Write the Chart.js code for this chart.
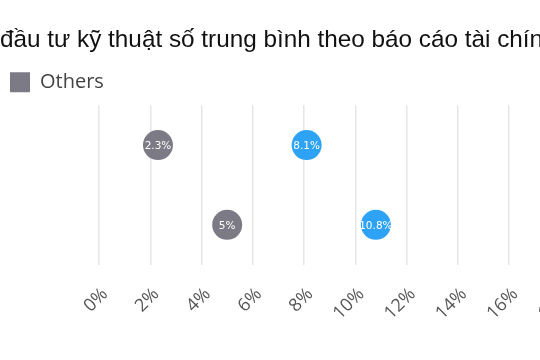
<!DOCTYPE html>
<html>
<head>
<meta charset="utf-8">
<script src="https://cdn.jsdelivr.net/npm/chart.js@4/dist/chart.umd.min.js"></script>
<style>
  html, body { margin: 0; padding: 0; background: #fff; overflow: hidden; }
  #wrap { position: absolute; left: 0; top: 0; width: 646px; height: 360px; }
</style>
</head>
<body>
<div id="wrap"><canvas id="chart"></canvas></div>
<script>
// Data
const titleText = 'đầu tư kỹ thuật số trung bình theo báo cáo tài chính';
const categories = ['Hàng 1', 'Hàng 2'];
const othersValues = [2.3, 5];
const leadersValues = [8.1, 10.8];
const xTickValues = [0, 2, 4, 6, 8, 10, 12, 14, 16, 18, 20];

const GRAY = '#7b7a85';
const BLUE = '#2ea3f5';

// Draw the value inside each bubble
const valueLabels = {
  id: 'valueLabels',
  afterDatasetsDraw(chart) {
    const ctx = chart.ctx;
    ctx.save();
    ctx.font = '10.5px "DejaVu Sans"';
    ctx.fillStyle = '#ffffff';
    ctx.textAlign = 'center';
    ctx.textBaseline = 'middle';
    chart.data.datasets.forEach((ds, i) => {
      chart.getDatasetMeta(i).data.forEach((pt, j) => {
        ctx.fillText(ds.data[j] + '%', pt.x, pt.y + 1);
      });
    });
    ctx.restore();
  }
};

// A little more room under the legend
const legendSpacing = {
  id: 'legendSpacing',
  beforeInit(chart) {
    const fit = chart.legend.fit;
    chart.legend.fit = function () {
      fit.call(this);
      this.height += 3;
    };
  }
};

new Chart(document.getElementById('chart'), {
  type: 'line',
  data: {
    labels: categories,
    datasets: [
      {
        label: 'Others',
        data: othersValues,
        showLine: false,
        backgroundColor: GRAY,
        borderColor: GRAY,
        borderWidth: 0,
        pointRadius: 15,
        pointHoverRadius: 15
      },
      {
        label: 'Leaders',
        data: leadersValues,
        showLine: false,
        backgroundColor: BLUE,
        borderColor: BLUE,
        borderWidth: 0,
        pointRadius: 15,
        pointHoverRadius: 15
      }
    ]
  },
  options: {
    indexAxis: 'y',
    responsive: true,
    maintainAspectRatio: false,
    animation: false,
    layout: { padding: { left: 0, right: 0, bottom: 17 } },
    scales: {
      x: {
        type: 'linear',
        min: 0,
        max: 20,
        afterBuildTicks: (axis) => { axis.ticks = xTickValues.map(v => ({ value: v })); },
        border: { display: false },
        grid: { color: '#e6e6e6', lineWidth: 1.5, drawTicks: false },
        ticks: {
          minRotation: 45,
          maxRotation: 45,
          padding: 19,
          labelOffset: 6,
          color: '#555',
          font: { family: '"Open Sans"', size: 18 },
          callback: (v) => v + '%'
        }
      },
      y: {
        type: 'category',
        offset: true,
        grid: { display: false },
        border: { display: false },
        ticks: { display: false },
        afterFit: (axis) => { axis.width = 99; }
      }
    },
    plugins: {
      title: {
        display: true,
        text: titleText,
        align: 'start',
        color: '#111',
        font: { family: '"Liberation Sans"', size: 24.3, weight: 'normal' },
        padding: { top: 26, bottom: 7 }
      },
      legend: {
        align: 'start',
        labels: {
          boxWidth: 20,
          boxHeight: 20,
          color: '#444',
          font: { family: '"Open Sans"', size: 20 },
          filter: (item) => item.text === 'Others'
        }
      },
      tooltip: { enabled: false }
    }
  },
  plugins: [valueLabels, legendSpacing]
});
</script>
</body>
</html>
